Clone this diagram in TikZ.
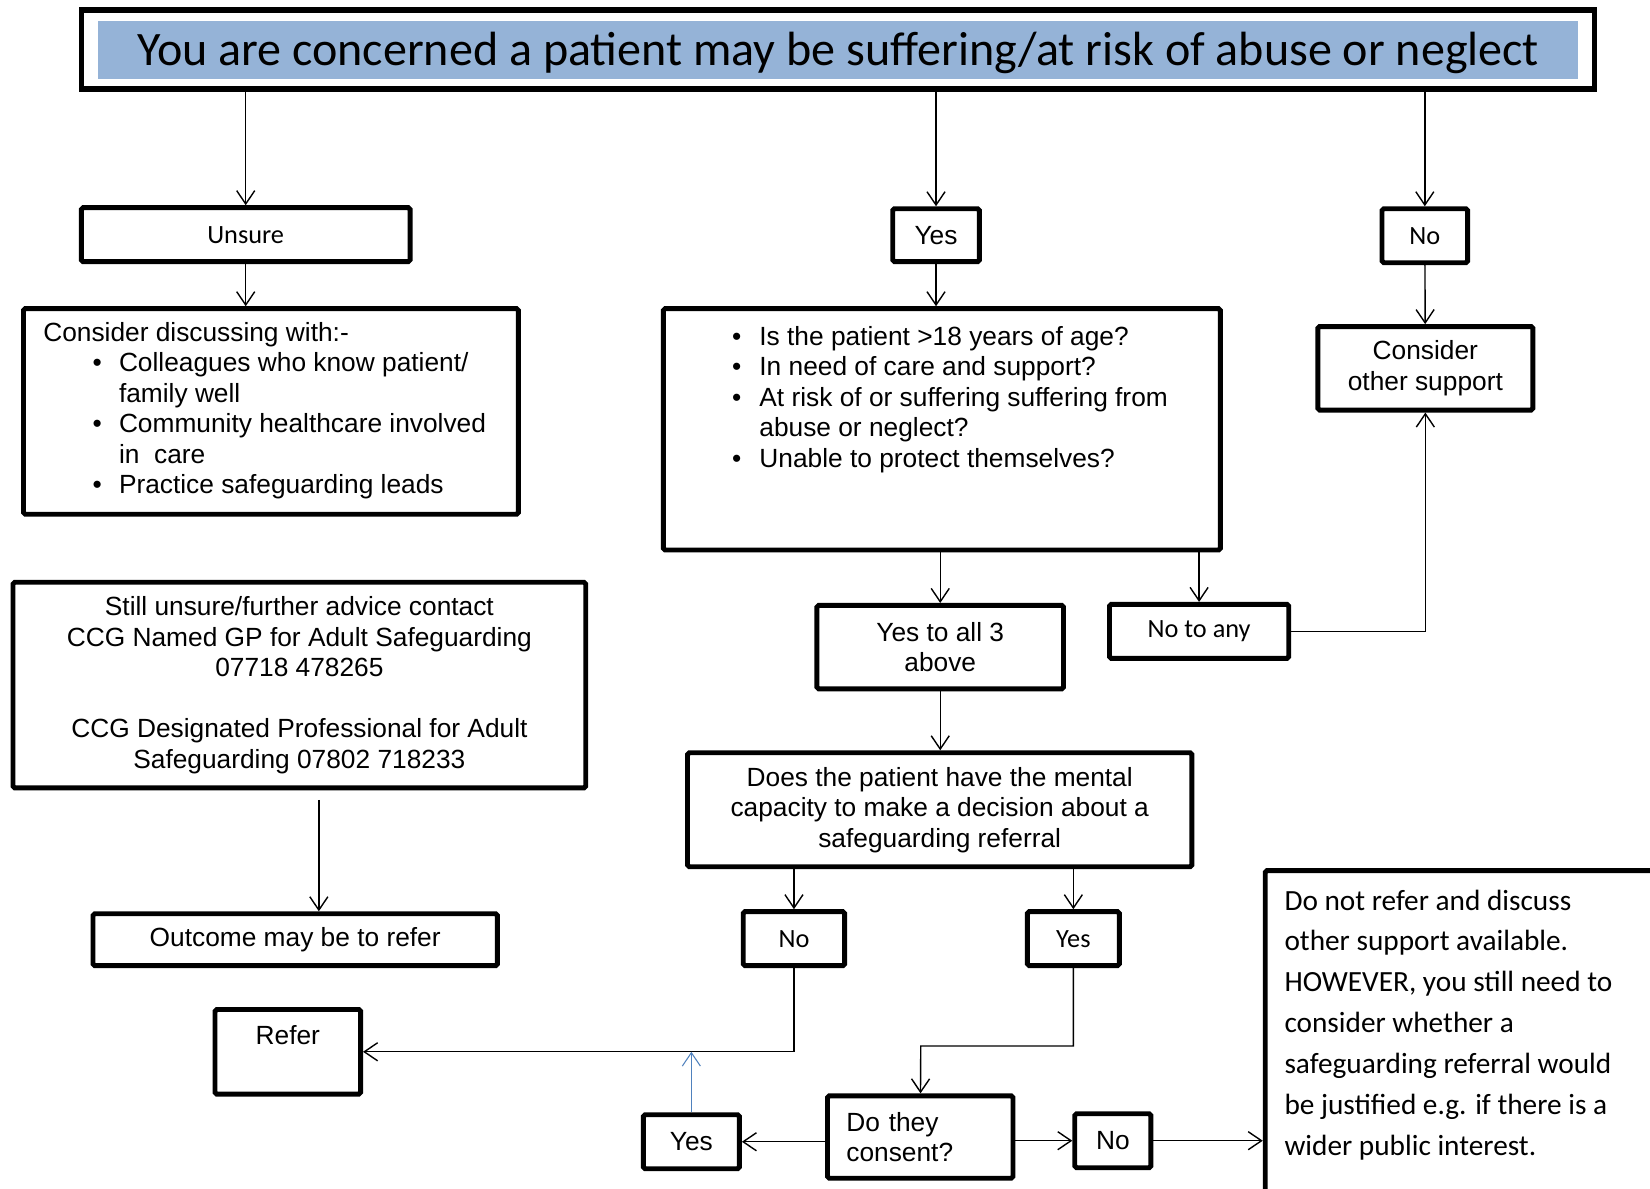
\documentclass[tikz,border=0pt]{standalone}
\usepackage{fontspec}
\setmainfont{Liberation Sans}
\newfontfamily\calfont{Carlito}
\usepackage{tikz}
\usetikzlibrary{arrows.meta}
\definecolor{titleblue}{RGB}{149,179,215}
\definecolor{linkblue}{RGB}{79,129,189}
\newcommand{\arialtext}{\fontsize{15}{17.4}\selectfont}
\newcommand{\calibritext}{\calfont\fontsize{15}{17.4}\selectfont}

\begin{document}
\begin{tikzpicture}[>={Straight Barb[length=7.6pt,width=10.3pt]}, line width=0.8pt,
        x=0.6pt, y=-0.6pt,
        box/.style={draw, line width=2.8pt, rounded corners=1pt, inner sep=0pt, align=center, font=\arialtext},
        cbox/.style={box, font=\calibritext}]
        \clip (0,0) rectangle (1568,1129);
        \fill[white] (0,0) rectangle (1568,1129);
        % heading
        \node[draw, line width=3pt, minimum width=862.8pt, minimum height=45pt] (titlebox) at (796.5,47) {};
        \node[fill=titleblue, inner sep=0pt, outer sep=0pt, minimum width=844.2pt, minimum height=33pt,
            text height=22pt, text depth=4pt,
            font=\calfont\fontsize{27.4}{32}\selectfont] (title) at (796.5,47.5)
            {You are concerned a patient may be suffering/at risk of abuse or neglect};
        % first answers
        \node[cbox, minimum width=187.4pt, minimum height=30.8pt] (unsure) at (233.5,223) {Unsure};
        \node[box, minimum width=49.4pt, minimum height=30.2pt] (yes1) at (889.5,223.5) {Yes};
        \node[cbox, minimum width=48.8pt, minimum height=30.8pt] (no1) at (1354,224) {No};
        \draw[->] (titlebox.south -| unsure) -- (unsure);
        \draw[->] (titlebox.south -| yes1) -- (yes1);
        \draw[->] (titlebox.south -| no1) -- (no1);
        % unsure branch
        \node[box, minimum width=282.2pt, minimum height=117.2pt] (discuss) at (257.5,391) {%
            \begin{tabular}{@{}p{28.2pt}@{}p{15pt}@{}l@{\hspace{7.2pt}}}
            \multicolumn{3}{@{}l@{}}{Consider discussing with:-}\\
            & \textbullet & Colleagues who know patient/\\
            & & family well\\
            & \textbullet & Community healthcare involved\\
            & & in~~care\\
            & \textbullet & Practice safeguarding leads
            \end{tabular}};
        \draw[->] (unsure) -- (unsure |- discuss.north);
        \node[box, minimum width=326.6pt, minimum height=117.2pt] (advice) at (284.5,651)
            {Still unsure/further advice contact\\CCG Named GP for Adult Safeguarding\\07718 478265\\[17.4pt]
            CCG Designated Professional for Adult\\Safeguarding 07802 718233};
        \node[box, minimum width=230.6pt, minimum height=29.6pt] (outcome) at (280.5,893) {Outcome may be to refer};
        \coordinate (gap) at (303,760);
        \draw[->] (gap) -- (gap |- outcome.north);
        % yes branch
        \node[box, minimum width=317.6pt, minimum height=137.6pt] (checks) at (895,408) {};
        \node[anchor=north west, inner sep=0pt, font=\arialtext] (checkstxt) at ([shift={(67,16)}]checks.north west) {%
            \begin{tabular}{@{}p{15.6pt}@{}l@{}}
            \textbullet & Is the patient >18 years of age?\\
            \textbullet & In need of care and support?\\
            \textbullet & At risk of or suffering suffering from\\
            & abuse or neglect?\\
            \textbullet & Unable to protect themselves?
            \end{tabular}};
        \draw[->] (yes1) -- (yes1 |- checks.north);
        \node[box, minimum width=122.6pt, minimum height=47.6pt] (other) at (1354.5,350) {Consider\\other support};
        \draw[->] (no1) -- (other);
        \node[box, minimum width=140.6pt, minimum height=47.6pt] (yesall) at (893.5,615) {Yes to all 3\\above};
        \node[cbox, minimum width=102.2pt, minimum height=30.8pt] (noany) at (1139.5,600) {No to any};
        \draw[->] (checks.south -| yesall) -- (yesall);
        \draw[->] (checks.south -| noany) -- (noany);
        \draw[->] (noany) -| (other);
        % capacity
        \node[box, minimum width=287.6pt, minimum height=65pt] (capacity) at (893,769.5)
            {Does the patient have the mental\\capacity to make a decision about a\\safeguarding referral};
        \draw[->] (yesall) -- (yesall |- capacity.north);
        \node[cbox, minimum width=57.8pt, minimum height=30.8pt] (no2) at (754.5,892) {No};
        \node[cbox, minimum width=52.4pt, minimum height=30.8pt] (yes2) at (1020,892) {Yes};
        \draw[->] (capacity.south -| no2) -- (no2);
        \draw[->] (capacity.south -| yes2) -- (yes2);
        \node[box, minimum width=83pt, minimum height=48.2pt, text height=11pt, text depth=19pt] (refer) at (273.5,999.5) {Refer};
        \draw[->] (no2) |- (refer);
        % consent
        \node[box, minimum width=105.8pt, minimum height=47pt, inner xsep=10.8pt, text width=84.2pt, align=left]
            (consent) at (874.5,1080.5) {Do they\\consent?};
        \coordinate (jog) at (875,994);
        \draw[->] (yes2) |- (jog) -- (consent);
        \node[box, minimum width=54.8pt, minimum height=30.8pt] (yes3) at (657,1085) {Yes};
        \node[box, minimum width=43.4pt, minimum height=30.8pt] (no3) at (1057.5,1084) {No};
        \draw[->] (consent.west |- yes3) -- (yes3);
        \draw[->] (consent.east |- no3) -- (no3);
        \draw[->, draw=linkblue, line width=0.6pt] (yes3) -- (yes3 |- refer);
        \node[box, anchor=north west, minimum width=360pt, minimum height=360pt] (dnr) at (1200,825) {};
        \node[anchor=north west, inner sep=0pt, font=\calfont\fontsize{16.7}{23.3}\selectfont] (dnrtxt)
            at ([shift={(20,12)}]dnr.north west) {%
            \begin{tabular}{@{}l@{}}
            Do not refer and discuss\\
            other support available.\\
            HOWEVER, you still need to\\
            consider whether a\\
            safeguarding referral would\\
            be justified e.g. if there is a\\
            wider public interest.
            \end{tabular}};
        \draw[->] (no3) -- (no3 -| dnr.west);
\end{tikzpicture}
\end{document}
